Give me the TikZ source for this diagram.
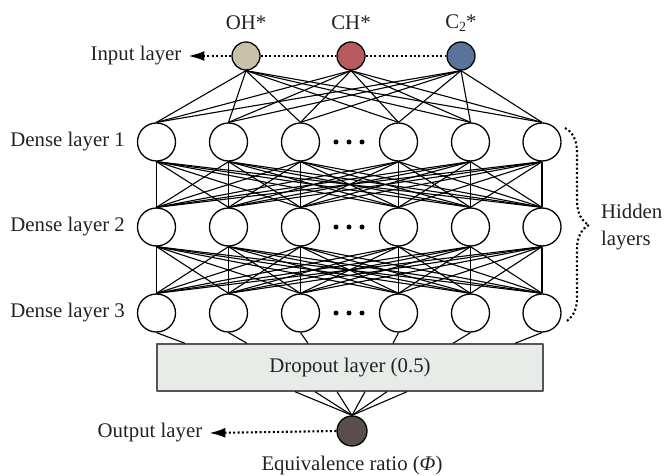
\documentclass[tikz,border=0pt]{standalone}
\usepackage{fontspec}
\setmainfont{Liberation Serif}
\usetikzlibrary{arrows.meta,calc,decorations.pathreplacing}
\definecolor{ohcol}{HTML}{C9C0AA}
\definecolor{chcol}{HTML}{B95A60}
\definecolor{ctwocol}{HTML}{5A739B}
\definecolor{outcol}{HTML}{5A4E4C}
\definecolor{dropcol}{HTML}{E7ECE8}
\definecolor{dropline}{HTML}{555555}
\definecolor{inkcol}{HTML}{222222}
\tikzset{
  neuron/.style={draw,circle,line width=0.65pt,minimum size=19pt,inner sep=0pt},
  feature/.style={draw,circle,line width=0.65pt,minimum size=14pt,inner sep=0pt},
  link/.style={line width=0.55pt},
  dotline/.style={line width=1.05pt,dash pattern=on 1pt off 1.2pt},
  pointer/.style={dotline,-{Latex[length=8pt,width=5pt]}}
}
\begin{document}
\begin{tikzpicture}[x=0.5pt,y=-0.5pt,line join=round,text=inkcol,font=\fontsize{10.4}{12}\selectfont]
    \useasboundingbox (0,0) rectangle (667,475);

    \node[feature,fill=ohcol] (oh) at (246,56) {};
    \node[feature,fill=chcol] (ch) at (351,56) {};
    \node[feature,fill=ctwocol] (ctwo) at (461,56) {};
    \node (ohlab) at (246,23) {OH*};
    \node (chlab) at (351,23) {CH*};
    \node (ctwolab) at (461,23) {C\raisebox{-0.35ex}{\fontsize{7}{8}\selectfont 2}*};
    \node (inlab) at (136,56) {Input layer};
    \draw[dotline] (oh) -- (ch);
    \draw[dotline] (ch) -- (ctwo);
    \draw[pointer] (oh.west) -- (inlab.east);

    \foreach \x [count=\i] in {156.5,228.5,300.5,398.5,470.5,542}{
      \node[neuron] (a\i) at (\x,142) {};
      \node[neuron] (b\i) at (\x,227) {};
      \node[neuron] (c\i) at (\x,313) {};
    }
    \foreach \y in {142,227,313}
      \foreach \x in {336,349,362}
        \fill (\x,\y) circle (1.25pt);
    \node[left=2.5pt] (lab1) at (a1.west) {Dense layer 1};
    \node[left=2.5pt] (lab2) at (b1.west) {Dense layer 2};
    \node[left=2.5pt] (lab3) at (c1.west) {Dense layer 3};

    \foreach \s in {oh,ch,ctwo}
      \foreach \t in {1,...,6}
        \draw[link] (\s.south) -- (a\t.north);
    \foreach \s in {1,...,6}
      \foreach \t in {1,...,6}{
        \draw[link] (a\s.south) -- (b\t.north);
        \draw[link] (b\s.south) -- (c\t.north);
      }

    \node[draw=dropline,fill=dropcol,line width=0.7pt,minimum width=193pt,minimum height=23.5pt] (drop) at (350,367.5) {Dropout layer (0.5)};
    \foreach \i/\dx in {1/-165,2/-103,3/-42,4/43,5/103,6/165}
      \draw[link] (c\i.south) -- ($(drop.north)+(\dx,0)$);

    \node[draw,circle,line width=0.65pt,fill=outcol,minimum size=15pt,inner sep=0pt] (out) at (352,431) {};
    \foreach \dx in {-55,-35,-13,15,37,57}
      \draw[link] ($(drop.south)+(\dx,0)$) -- (out.north);
    \node (outlab) at (150,433) {Output layer};
    \draw[pointer] (out.west) -- (outlab.east);
    \node (eqlab) at (352,465) {Equivalence ratio (\textit{Φ})};

    \draw[dotline,decorate,decoration={brace,amplitude=12pt}] (565,128) -- (565,322);
    \node[anchor=west,align=left,font=\fontsize{10.4}{13.5}\selectfont] (hidlab) at (594,227) {Hidden\\layers};
  \end{tikzpicture}
\end{document}
